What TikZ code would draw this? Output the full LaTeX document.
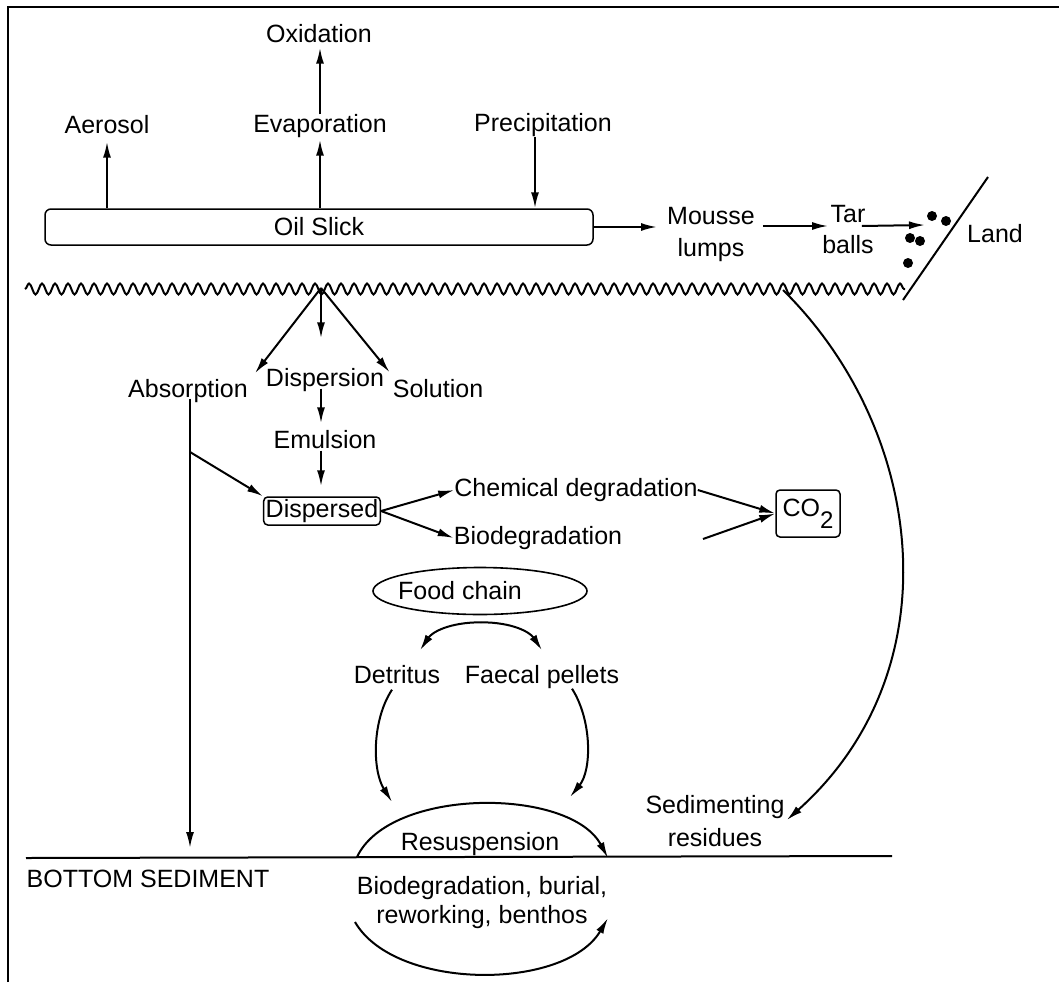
\documentclass[tikz,border=0pt]{standalone}
\usepackage{fontspec}
\setmainfont{Liberation Sans}
\usetikzlibrary{arrows.meta,decorations.pathmorphing,shapes.geometric,calc}
\begin{document}
\begin{tikzpicture}[x=1pt,y=-1pt,
  every node/.style={font=\fontsize{25}{31}\selectfont, inner sep=1pt},
  lbl/.style={text height=18pt,text depth=5pt,inner sep=0pt},
  arr/.style={line width=2pt,-{Latex[length=16pt,width=8pt]}},
  ln/.style={line width=2pt},
  boxed/.style={draw,line width=1.5pt,rounded corners=4pt}]
\useasboundingbox (0,0) rectangle (1059,982);
\draw[line width=1.4pt] (8,982) -- (8,7) -- (1059,7);

% atmosphere
\node[lbl] (ox) at (319,36) {Oxidation};
\node[lbl] (aer) at (107,127) {Aerosol};
\node[lbl] (evap) at (320,126) {Evaporation};
\node[lbl] (prec) at (543,125) {Precipitation};
\node[draw,line width=1.5pt,rounded corners=6pt,minimum width=548pt,minimum height=36pt,inner sep=0pt] (slick) at (319,227) {\raisebox{-4pt}{Oil Slick}};

\draw[arr,shorten >=3pt] (aer.south |- slick.north) -- (aer.south);
\draw[arr,shorten >=2pt] (evap.south |- slick.north) -- (evap.south);
\draw[arr] (evap.north) -- (evap.north |- ox.south);
\draw[arr] ([xshift=-8pt]prec.south) -- ([xshift=-8pt]prec.south |- slick.north);

% surface drift
\node[align=center,inner sep=0pt,font=\fontsize{25}{32}\selectfont] (mousse) at (711,234) {Mousse\\lumps};
\node[align=center,inner sep=0pt,font=\fontsize{25}{31}\selectfont] (tar) at (848,230) {Tar\\balls};
\node[lbl] (land) at (995,236) {Land};
\coordinate (dotsin) at (925,225);
\coordinate (la) at (903,300);
\coordinate (lb) at (988,177);

\draw[arr] (slick.east) -- ([xshift=-10pt]mousse.west |- slick.east);
\draw[arr] ([shift={(8pt,8pt)}]mousse.east) -- ([shift={(6pt,4pt)}]tar.west);
\draw[arr] ([shift={(-12pt,4pt)}]tar.east) -- (dotsin);
\draw[ln] (la) -- (lb);
\foreach \p in {(932,216),(946,221),(910,238),(920,241),(908,263)}
  \fill \p circle (5pt);

% sea surface
\coordinate (wl) at (25,289);
\coordinate (wr) at (905,289);
\draw[ln,decorate,decoration={snake,segment length=13pt,amplitude=5.5pt}] (wl) -- (wr);

% water column
\coordinate (br) at (321,288);
\node[lbl] (abs) at (188,391) {Absorption};
\node[lbl] (disp) at (325,380) {Dispersion};
\node[lbl] (sol) at (438,391) {Solution};
\node[lbl] (emul) at (325,442) {Emulsion};
\node[boxed,lbl,inner sep=2pt,minimum width=115pt,minimum height=28pt] (dispd) at (322,511) {Dispersed};
\node[lbl] (chem) at (576,490) {Chemical degradation};
\node[lbl] (bio) at (538,538) {Biodegradation};
\node[boxed,inner sep=0pt,minimum width=64pt,minimum height=47pt] (co2) at (808,513.5) {CO\raisebox{-12pt}{\fontsize{24}{24}\selectfont 2}};
\coordinate (bioend) at (703,539);

\draw[arr] (br) -- ($(abs.north east)+(7,-6)$);
\draw[arr] (br) -- ($(disp.north -| br)+(0,-30)$);
\draw[arr] (br) -- ($(sol.north west)+(-3,-7)$);
\draw[arr,shorten >=7pt] ($(disp.south -| br)+(0,-3)$) -- (emul.north -| br);
\draw[arr,shorten >=10pt] ($(emul.south -| br)+(0,-3)$) -- (dispd.north -| br);
\coordinate (absj) at (190,452);
\coordinate (absend) at (190,848);
\draw[arr] ($(abs.south)+(2,-4)$) -- (absend);
\draw[arr] (absj) -- (dispd.north west);
\draw[arr] (dispd.east) -- (chem.west);
\draw[arr] (dispd.east) -- (bio.west);
\draw[arr] (chem.east) -- (co2.west);
\draw[arr] (bioend) -- (co2.west);

% food chain
\node[draw,line width=1.6pt,ellipse,minimum width=214pt,minimum height=47pt,inner sep=0pt] (food) at (480,591) {\makebox[0pt]{\hspace*{-40pt}Food chain}};
\node[lbl] (detr) at (397,677) {Detritus};
\node[lbl] (faec) at (542,677) {Faecal pellets};
\draw[arr] ($(food.south)+(1,7)$) .. controls +(-32,0) and +(12,-18) .. ($(detr.north)+(23,-15)$);
\draw[arr] ($(food.south)+(1,7)$) .. controls +(32,0) and +(-12,-18) .. ($(faec.north)+(0,-15)$);

% sediment
\node[lbl] (resus) at (480,844) {Resuspension};
\node[align=center,inner sep=0pt,font=\fontsize{25}{33}\selectfont] (sedres) at (715,821) {Sedimenting\\residues};
\node[lbl] (bsed) at (148,881) {BOTTOM SEDIMENT};
\node[align=center,inner sep=0pt,font=\fontsize{25}{29}\selectfont] (biob) at (482,903) {Biodegradation, burial,\\reworking, benthos};

\coordinate (detrend) at (392,802);
\coordinate (faecend) at (570,797);
\draw[arr] ($(detr.south)+(-5,1)$) .. controls (372,720) and (372,770) .. (detrend);
\draw[arr] ($(faec.south)+(30,0)$) .. controls (592,720) and (592,770) .. (faecend);

\coordinate (sedst) at (783,290);
\draw[arr] (sedst) .. controls (925,430) and (955,670) .. ($(sedres.north east)+(2,25)$);

\coordinate (bsl) at (26,858);
\coordinate (bsr) at (892,856);
\draw[ln] (bsl) -- (bsr);

\coordinate (rsl) at (357,857);
\coordinate (rsr) at (608,858);
\draw[arr] (rsl) .. controls (390,787) and (570,787) .. (rsr);

\coordinate (bal) at (355,922);
\coordinate (bar) at (608,918);
\draw[arr] (bal) .. controls (395,991) and (565,991) .. (bar);
\end{tikzpicture}
\end{document}
